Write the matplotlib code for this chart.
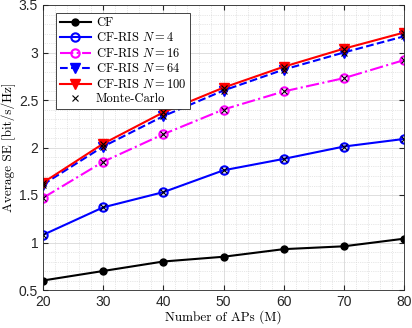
import numpy as np
import matplotlib
matplotlib.use('Agg')
import matplotlib.pyplot as plt
from matplotlib.ticker import MultipleLocator, FuncFormatter

plt.rcParams['mathtext.fontset'] = 'cm'
plt.rcParams['font.family'] = 'Liberation Sans'

aps = [20, 30, 40, 50, 60, 70, 80]
se_cf = [0.60, 0.70, 0.80, 0.85, 0.93, 0.96, 1.04]
se_n4 = [1.08, 1.37, 1.53, 1.76, 1.88, 2.01, 2.09]
se_n16 = [1.47, 1.85, 2.14, 2.40, 2.59, 2.73, 2.92]
se_n64 = [1.61, 2.01, 2.33, 2.60, 2.82, 3.00, 3.17]
se_n100 = [1.63, 2.04, 2.37, 2.63, 2.85, 3.04, 3.21]
labels = ['CF', 'CF-RIS $N=4$', 'CF-RIS $N=16$', 'CF-RIS $N=64$',
          'CF-RIS $N=100$', 'Monte-Carlo']

fig = plt.figure(figsize=(4.12, 3.28), dpi=100)
ax = fig.add_axes([43/412, 1-290/328, 361/412, 285/328])

lw = 1.5
ax.plot(aps, se_cf, '-', color='k', marker='o', ms=5, lw=lw, label=labels[0])
ax.plot(aps, se_n4, '-', color='#0000ff', marker='o', ms=6, mfc='none', mew=1.5, lw=lw, label=labels[1])
ax.plot(aps, se_n16, '-.', color='#ff00ff', marker='o', ms=6, mfc='none', mew=1.5, lw=lw, label=labels[2])
ax.plot(aps, se_n64, '--', color='#0000ff', marker='v', ms=7, lw=lw, label=labels[3])
ax.plot(aps, se_n100, '-', color='#ff0000', marker='v', ms=7, lw=lw, label=labels[4])
mc = np.concatenate([se_n4, se_n16, se_n64, se_n100])
ax.plot(np.tile(aps, 4), mc, 'x', color='k', ms=4, mew=0.8, ls='none', label=labels[5])

ax.set_xlim(20, 80)
ax.set_ylim(0.5, 3.5)
ax.xaxis.set_major_locator(MultipleLocator(10))
ax.xaxis.set_minor_locator(MultipleLocator(2))
ax.yaxis.set_major_locator(MultipleLocator(0.5))
ax.yaxis.set_minor_locator(MultipleLocator(0.1))
ax.yaxis.set_major_formatter(FuncFormatter(lambda v, p: '%g' % v))
ax.grid(which='major', color='#d8d8d8', lw=0.6)
ax.grid(which='minor', color='#d0d0d0', lw=0.5, ls=':')
ax.tick_params(which='both', direction='in', top=True, right=True, labelsize=10, colors='#262626')
ax.tick_params(which='minor', length=0)
for s in ax.spines.values():
    s.set_color('#262626')
    s.set_linewidth(0.6)

ax.set_xlabel('Number of APs (M)', fontfamily='cmr10', fontsize=9.5, labelpad=1)
ax.set_ylabel('Average SE [bit/s/Hz]', fontfamily='cmr10', fontsize=9.5, labelpad=2)

leg = ax.legend(loc='upper left', bbox_to_anchor=(13/361, 1-8/285),
                prop={'family': 'cmr10', 'size': 9},
                fancybox=False, edgecolor='#262626', framealpha=1,
                handlelength=2.5, handletextpad=0.4, labelspacing=0.2,
                borderpad=0.3, borderaxespad=0)
leg.get_frame().set_linewidth(0.6)

fig.savefig('out.png', dpi=100)
